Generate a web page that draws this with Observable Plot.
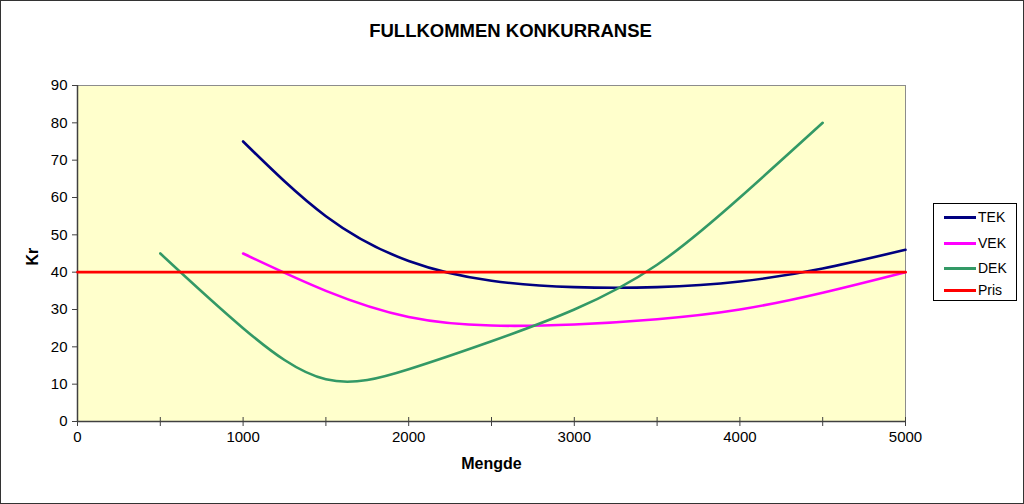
<!DOCTYPE html>
<html><head><meta charset="utf-8">
<script src="https://cdn.jsdelivr.net/npm/d3@7"></script>
<script src="https://cdn.jsdelivr.net/npm/@observablehq/plot@0.6"></script>
<style>
body{margin:0;background:#fff;font-family:"Liberation Sans",Arial,sans-serif;}
#wrap{position:relative;width:1024px;height:504px;overflow:hidden;}
#border{position:absolute;left:0;top:0;width:1022px;height:502px;border:1px solid #333;pointer-events:none;}
#legend{position:absolute;left:933px;top:203px;width:82px;height:96px;border:1px solid #000;background:#fff;font-size:14px;}
.item{position:absolute;left:10px;height:16px;display:flex;align-items:center;}
.sw{width:32px;height:3px;margin-right:2px;}
</style></head>
<body><div id="wrap"><div id="chart"></div><div id="legend"></div><div id="border"></div></div>
<script>
const title = "FULLKOMMEN KONKURRANSE";
const series = ["TEK", "VEK", "DEK", "Pris"];
const colors = ["#000080", "#FF00FF", "#339966", "#FF0000"];
const qTEK = [1000, 1500, 2000, 2500, 3000, 3500, 4000, 4500, 5000];
const TEK  = [75, 55, 43, 37.7, 36, 36, 37.5, 41, 46];
const qVEK = [1000, 1500, 2000, 2500, 3000, 3500, 4000, 4500, 5000];
const VEK  = [45, 35, 28, 25.7, 26, 27.4, 30, 34.5, 40];
const qDEK = [500, 1000, 1500, 2000, 2500, 3000, 3500, 4000, 4500];
const DEK  = [45, 25, 11.3, 14, 21.5, 30, 42, 60, 80];
const qPris = [0, 5000];
const Pris = [40, 40];
const xTicks = [0, 500, 1000, 1500, 2000, 2500, 3000, 3500, 4000, 4500, 5000];
const xLabels = [0, 1000, 2000, 3000, 4000, 5000];
const yTicks = [0, 10, 20, 30, 40, 50, 60, 70, 80, 90];

const rows = [];
[[qTEK, TEK], [qVEK, VEK], [qDEK, DEK], [qPris, Pris]].forEach(([q, v], i) =>
  q.forEach((x, j) => rows.push({s: series[i], x, y: v[j]})));

const plot = Plot.plot({
  width: 1024, height: 504,
  marginLeft: 77, marginRight: 119, marginTop: 85, marginBottom: 83,
  style: {fontFamily: '"Liberation Sans", Arial, sans-serif', fontSize: "15px", color: "#000", background: "transparent"},
  x: {domain: [0, 5000]},
  y: {domain: [0, 90]},
  color: {domain: series, range: colors},
  marks: [
    Plot.frame({fill: "#FFFFCC", stroke: "#8c8c8c"}),
    Plot.axisY({ticks: yTicks, tickSize: 5, tickPadding: 5, label: null, stroke: "#404040", tickFormat: d => String(d)}),
    Plot.axisX({ticks: xTicks, tickSize: 5, tickFormat: () => "", label: null, stroke: "#404040"}),
    Plot.axisX({ticks: xTicks, tickSize: -4, tickFormat: () => "", label: null, stroke: "#404040"}),
    Plot.axisX({ticks: xLabels, tickSize: 0, tickPadding: 10, label: null, tickFormat: d => String(d)}),
    Plot.ruleX([0], {stroke: "#404040", strokeWidth: 1.5}),
    Plot.ruleY([0], {stroke: "#404040", strokeWidth: 1.5}),
    Plot.line(rows, {x: "x", y: "y", z: "s", stroke: "s", strokeWidth: 2.6, curve: "natural"}),
    Plot.text([title], {frameAnchor: "top", dx: 19, dy: -62, fontWeight: "bold", fontSize: 18.5}),
    Plot.text(["Kr"], {frameAnchor: "left", dx: -45, dy: 12, rotate: -90, fontWeight: "bold", fontSize: 16}),
    Plot.text(["Mengde"], {frameAnchor: "bottom", dy: 47, fontWeight: "bold", fontSize: 16})
  ]
});
document.getElementById("chart").appendChild(plot);

const lg = document.getElementById("legend");
const tops = [5, 31, 56, 78];
series.forEach((s, i) => {
  const d = document.createElement("div");
  d.className = "item"; d.style.top = tops[i] + "px";
  d.innerHTML = `<span class="sw" style="background:${colors[i]}"></span><span>${s}</span>`;
  lg.appendChild(d);
});
</script></body></html>
